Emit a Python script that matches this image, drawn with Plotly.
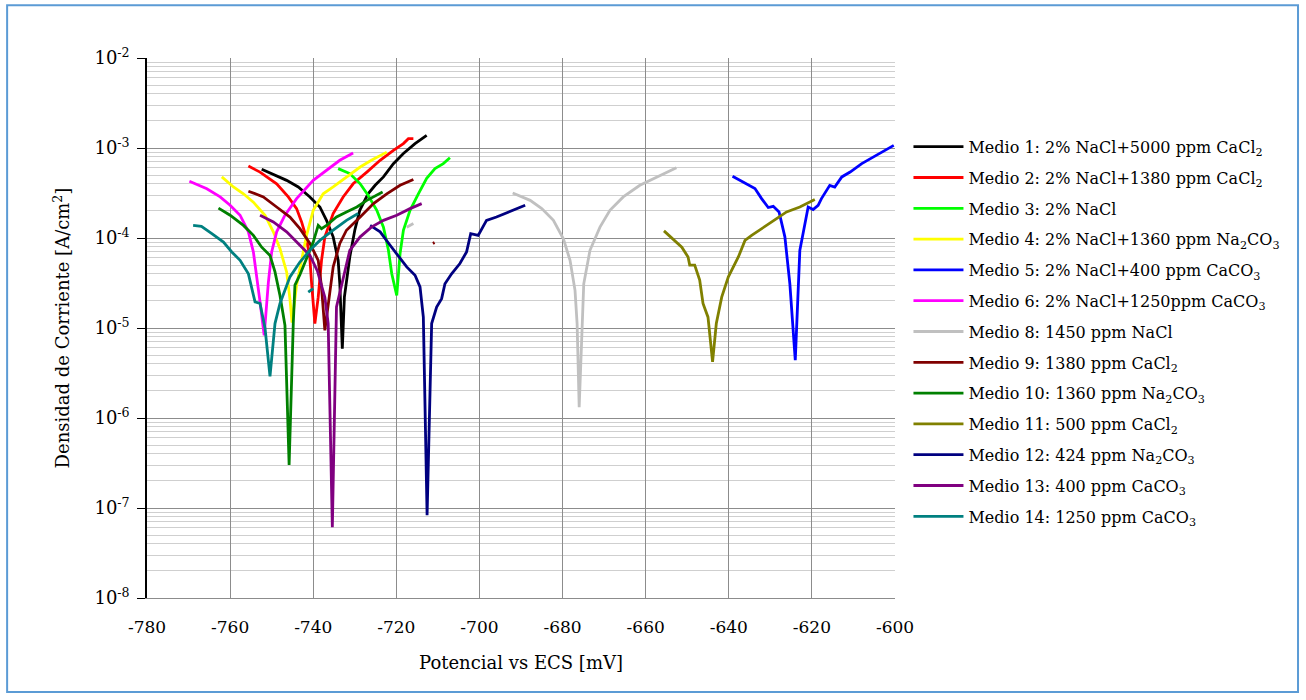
import plotly.graph_objects as go

# ---------------- data (mV vs ECS, A/cm2) ----------------
m1_x = [-752.4, -749.6, -746.4, -743.6, -740.8, -738.4, -736.8, -735.2, -734.0, -733.6, -733.0,
        -732.5, -731.2, -730.0, -728.8, -726.8, -725.1, -723.1, -720.7, -718.3, -715.5, -712.7]
m1_y = [5.8e-4, 5.06e-4, 4.37e-4, 3.69e-4, 2.86e-4, 2.21e-4, 1.57e-4, 1.03e-4, 5.65e-5, 3.1e-5, 5.9e-6,
        2.2e-5, 6.15e-5, 1.22e-4, 2.03e-4, 3.1e-4, 3.85e-4, 4.77e-4, 6.7e-4, 8.7e-4, 1.12e-3, 1.38e-3]

m2_x = [-755.6, -752.8, -748.8, -746.0, -744.0, -742.8, -741.6, -740.8, -740.4, -739.6, -738.8,
        -738.0, -737.2, -735.2, -732.8, -730.4, -727.1, -723.9, -720.7, -718.3, -717.1, -715.9]
m2_y = [6.3e-4, 5.4e-4, 4.0e-4, 2.86e-4, 2.12e-4, 1.51e-4, 9.8e-5, 5.9e-5, 3.2e-5, 1.12e-5, 2.2e-5,
        5.65e-5, 1.03e-4, 1.87e-4, 2.86e-4, 4.0e-4, 5.4e-4, 7.3e-4, 9.4e-4, 1.12e-3, 1.27e-3, 1.27e-3]

m3_x = [-734.0, -731.2, -728.7, -726.8, -724.7, -723.1, -721.9, -721.1, -719.9, -719.1, -718.3,
        -716.7, -714.7, -712.7, -710.7, -708.7, -707.1]
m3_y = [5.9e-4, 5.2e-4, 4.0e-4, 2.98e-4, 2.03e-4, 1.32e-4, 7.3e-5, 4.0e-5, 2.3e-5, 6.7e-5, 1.22e-4,
        2.03e-4, 3.1e-4, 4.6e-4, 5.9e-4, 6.7e-4, 7.8e-4]

m4_x = [-762.0, -759.2, -756.8, -754.4, -751.6, -749.6, -748.0, -746.4, -745.6, -745.1, -744.0,
        -742.8, -741.6, -740.0, -737.6, -735.2, -732.0, -728.7, -726.0, -722.3]
m4_y = [4.77e-4, 3.69e-4, 3.1e-4, 2.5e-4, 1.79e-4, 1.17e-4, 7.6e-5, 4.2e-5, 2.1e-5, 1.15e-5, 3.0e-5,
        5.9e-5, 1.07e-4, 2.03e-4, 3.1e-4, 3.69e-4, 4.77e-4, 6.15e-4, 7.3e-4, 9.0e-4]

m5_x = [-639.1, -636.5, -633.7, -632.1, -630.5, -629.3, -627.9, -626.5, -625.3, -624.0, -622.9,
        -620.9, -619.7, -618.5, -617.7, -615.7, -614.5, -612.8, -610.8, -608.0, -605.2, -602.4, -600.3]
m5_y = [4.85e-4, 4.19e-4, 3.54e-4, 2.74e-4, 2.18e-4, 2.25e-4, 1.95e-4, 1.03e-4, 3.1e-5, 4.4e-6, 7.3e-5,
        2.21e-4, 2.07e-4, 2.31e-4, 2.74e-4, 3.85e-4, 3.69e-4, 4.77e-4, 5.4e-4, 6.7e-4, 7.9e-4, 9.4e-4, 1.07e-3]

m6_x = [-769.8, -765.6, -762.4, -760.0, -757.6, -755.6, -754.4, -753.6, -752.8, -751.8, -750.8,
        -750.0, -748.8, -746.8, -744.0, -740.0, -736.8, -733.6, -730.4]
m6_y = [4.27e-4, 3.53e-4, 2.86e-4, 2.31e-4, 1.79e-4, 1.17e-4, 7.0e-5, 3.85e-5, 1.95e-5, 8.3e-6, 3.2e-5,
        7.0e-5, 1.17e-4, 1.79e-4, 2.74e-4, 4.37e-4, 5.65e-4, 7.3e-4, 8.8e-4]

m8_x = [-692.0, -687.8, -685.0, -682.2, -679.8, -678.2, -677.0, -676.5, -676.0, -675.2, -674.9,
        -673.4, -671.0, -668.6, -665.4, -661.4, -656.6, -652.6]
m8_y = [3.16e-4, 2.62e-4, 2.12e-4, 1.57e-4, 9.8e-5, 5.65e-5, 2.62e-5, 1.12e-5, 1.32e-6, 1.12e-5, 3.1e-5,
        7.3e-5, 1.32e-4, 2.03e-4, 2.86e-4, 3.85e-4, 4.98e-4, 6.05e-4]
m8_frag_x = [-717.5, -715.9]
m8_frag_y = [1.32e-4, 1.45e-4]

m9_x = [-755.6, -752.0, -748.8, -745.6, -743.2, -740.8, -738.8, -738.0, -737.2, -736.0, -735.2,
        -733.6, -732.0, -728.7, -725.5, -722.3, -719.1, -715.9]
m9_y = [3.31e-4, 2.86e-4, 2.21e-4, 1.71e-4, 1.27e-4, 8.7e-5, 5.65e-5, 2.86e-5, 9.4e-6, 2.41e-5, 4.77e-5,
        8.7e-5, 1.22e-4, 1.71e-4, 2.41e-4, 3.1e-4, 3.85e-4, 4.46e-4]
m9_frag_x = [-711.2, -710.8]
m9_frag_y = [8.7e-5, 8.9e-5]

m10_x = [-762.8, -760.0, -756.8, -754.4, -752.4, -750.4, -749.2, -748.0, -746.8, -745.8, -744.8,
         -744.4, -743.2, -741.6, -740.0, -738.8, -738.0, -736.8, -734.4, -732.0, -729.5, -727.1, -724.7, -723.3]
m10_y = [2.15e-4, 1.79e-4, 1.38e-4, 1.07e-4, 7.9e-5, 6.4e-5, 4.2e-5, 2.3e-5, 1.07e-5, 3.0e-7, 1.12e-5,
         3.0e-5, 3.9e-5, 5.9e-5, 9.0e-5, 1.38e-4, 1.27e-4, 1.38e-4, 1.71e-4, 1.95e-4, 2.21e-4, 2.62e-4, 2.98e-4, 3.24e-4]

m11_x = [-655.6, -653.4, -651.3, -649.8, -649.4, -648.2, -647.0, -646.2, -645.0, -643.9, -643.0,
         -641.7, -640.1, -637.7, -636.1, -634.5, -631.7, -628.5, -626.1, -622.9, -619.3]
m11_y = [1.2e-4, 9.8e-5, 7.9e-5, 6.15e-5, 5.0e-5, 5.0e-5, 3.4e-5, 1.87e-5, 1.32e-5, 4.2e-6, 1.12e-5,
         2.2e-5, 3.7e-5, 6.15e-5, 9.4e-5, 1.07e-4, 1.32e-4, 1.64e-4, 1.95e-4, 2.21e-4, 2.67e-4]

m12_x = [-726.3, -723.9, -721.5, -719.1, -717.5, -715.5, -714.3, -713.5, -712.6, -711.5, -710.3,
         -709.1, -708.3, -706.7, -704.7, -703.1, -702.1, -700.3, -698.3, -695.9, -692.7, -689.0]
m12_y = [1.38e-4, 1.17e-4, 8.3e-5, 5.9e-5, 4.77e-5, 3.85e-5, 2.86e-5, 1.32e-5, 8.3e-8, 1.12e-5, 1.71e-5,
         2.12e-5, 3.1e-5, 4.0e-5, 5.2e-5, 7.0e-5, 1.12e-4, 1.07e-4, 1.57e-4, 1.71e-4, 1.95e-4, 2.31e-4]

m13_x = [-752.8, -749.6, -746.4, -743.2, -740.8, -739.0, -737.2, -736.4, -735.4, -734.4, -732.8,
         -731.2, -728.7, -726.0, -723.1, -719.9, -716.7, -713.9]
m13_y = [1.79e-4, 1.51e-4, 1.17e-4, 8.3e-5, 6.4e-5, 4.3e-5, 2.2e-5, 1.12e-5, 6.1e-8, 1.71e-5, 3.4e-5,
         7.3e-5, 1.03e-4, 1.32e-4, 1.57e-4, 1.79e-4, 2.12e-4, 2.41e-4]

m14_x = [-768.9, -766.9, -764.4, -761.6, -759.6, -757.6, -755.6, -754.0, -752.8, -751.6, -750.4,
         -749.2, -748.0, -745.6, -744.0, -743.2, -740.8, -738.4, -735.2, -732.0, -729.2]
m14_y = [1.38e-4, 1.35e-4, 1.12e-4, 9.0e-5, 7.0e-5, 5.65e-5, 4.0e-5, 1.95e-5, 1.87e-5, 1.0e-5, 2.9e-6,
         1.12e-5, 1.87e-5, 3.7e-5, 4.77e-5, 5.4e-5, 7.3e-5, 9.4e-5, 1.22e-4, 1.57e-4, 1.87e-4]
m14_frag_x = [-741.2, -740.0]
m14_frag_y = [2.5e-5, 2.74e-5]

names = [
    "Medio 1: 2% NaCl+5000 ppm CaCl<sub>2</sub>",
    "Medio 2: 2% NaCl+1380 ppm CaCl<sub>2</sub>",
    "Medio 3: 2% NaCl",
    "Medio 4: 2% NaCl+1360 ppm Na<sub>2</sub>CO<sub>3</sub>",
    "Medio 5: 2% NaCl+400 ppm CaCO<sub>3</sub>",
    "Medio 6: 2% NaCl+1250ppm CaCO<sub>3</sub>",
    "Medio 8: 1450 ppm NaCl",
    "Medio 9: 1380 ppm CaCl<sub>2</sub>",
    "Medio 10: 1360 ppm Na<sub>2</sub>CO<sub>3</sub>",
    "Medio 11: 500 ppm CaCl<sub>2</sub>",
    "Medio 12: 424 ppm Na<sub>2</sub>CO<sub>3</sub>",
    "Medio 13: 400 ppm CaCO<sub>3</sub>",
    "Medio 14: 1250 ppm CaCO<sub>3</sub>",
]
colors = ["#000000", "#FF0000", "#00FF00", "#FFFF00", "#0000FF", "#FF00FF", "#C0C0C0",
          "#800000", "#008000", "#808000", "#000080", "#800080", "#008080"]
series = [(m1_x, m1_y), (m2_x, m2_y), (m3_x, m3_y), (m4_x, m4_y), (m5_x, m5_y), (m6_x, m6_y),
          (m8_x, m8_y), (m9_x, m9_y), (m10_x, m10_y), (m11_x, m11_y), (m12_x, m12_y),
          (m13_x, m13_y), (m14_x, m14_y)]
fragments = [(m8_frag_x, m8_frag_y, 6), (m9_frag_x, m9_frag_y, 7), (m14_frag_x, m14_frag_y, 12)]

x_ticks = [-780, -760, -740, -720, -700, -680, -660, -640, -620, -600]
y_tick_exps = [-8, -7, -6, -5, -4, -3, -2]

FONT = "DejaVu Serif"
LW = 2.8
fig = go.Figure()
for i, ((xs, ys), nm, c) in enumerate(zip(series, names, colors)):
    fig.add_trace(go.Scatter(x=xs, y=ys, mode="lines", name=nm, legendgroup=f"g{i}",
                             line=dict(color=c, width=LW)))
for fx, fy, ci in fragments:
    fig.add_trace(go.Scatter(x=fx, y=fy, mode="lines", showlegend=False, legendgroup=f"g{ci}",
                             line=dict(color=colors[ci], width=LW), hoverinfo="skip"))

minor_vals = [k * 10.0 ** e for e in range(-8, -2) for k in range(2, 10)]

fig.update_layout(
    width=1306, height=700,
    margin=dict(l=147, r=411, t=58, b=102),
    paper_bgcolor="white", plot_bgcolor="white",
    font=dict(family=FONT, size=16, color="#000000"),
    showlegend=True,
    legend=dict(x=1.018, xanchor="left", y=0.867, yanchor="top", tracegroupgap=7, itemwidth=50,
                font=dict(family=FONT, size=16), bgcolor="rgba(0,0,0,0)"),
    xaxis=dict(range=[-780, -600], tickvals=x_ticks, ticktext=[str(v) for v in x_ticks],
               showgrid=True, gridcolor="#8c8c8c", gridwidth=1, zeroline=False,
               showline=True, linecolor="#8c8c8c", linewidth=1, ticks="",
               tickfont=dict(family=FONT, size=17), ticklabelstandoff=14,
               title=dict(text="Potencial vs ECS [mV]", font=dict(family=FONT, size=18), standoff=19)),
    yaxis=dict(type="log", range=[-8, -2],
               tickvals=[10.0 ** e for e in y_tick_exps],
               ticktext=[f"10<sup>{e}</sup>" for e in y_tick_exps],
               tickfont=dict(family=FONT, size=18),
               showgrid=True, gridcolor="#8c8c8c", gridwidth=1, zeroline=False,
               showline=True, linecolor="#000000", linewidth=1.5,
               ticks="outside", ticklen=8, tickcolor="#000000", ticklabelstandoff=4,
               minor=dict(tickvals=minor_vals, showgrid=True, gridcolor="#cfcfcf", gridwidth=1, ticks=""),
               title=dict(text="Densidad de Corriente [A/cm<sup>2</sup>]", font=dict(family=FONT, size=18), standoff=20)),
    shapes=[dict(type="rect", xref="paper", yref="paper", x0=-0.187, x1=1.5388, y0=-0.174, y1=1.0975,
                 line=dict(color="#5B9BD5", width=2), fillcolor="rgba(0,0,0,0)", layer="below")],
)

fig.write_html("out.html")
